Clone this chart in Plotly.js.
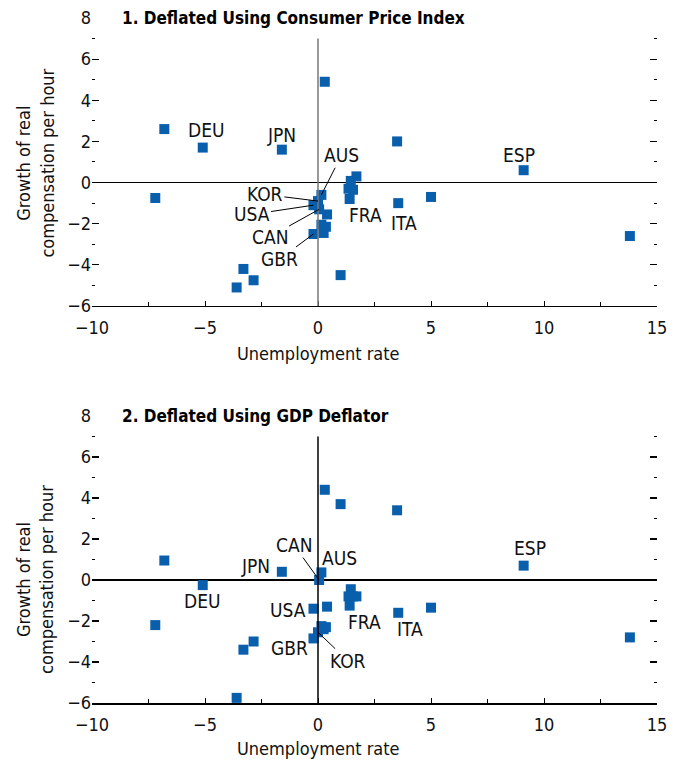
<!DOCTYPE html>
<html>
<head>
<meta charset="utf-8">
<script src="https://cdn.plot.ly/plotly-3.0.1.min.js"></script>
<style>html,body{margin:0;padding:0;background:#fff;}#chart{width:683px;height:760px;}</style>
</head>
<body>
<div id="chart"></div>
<script>
// Unemployment rate change (x) shared by both panels
const countries = ['', 'DEU', 'JPN', '', '', 'ESP', '', '', 'ITA', '', '', '', '', '',
                   'FRA', '', '', '', '', 'AUS', 'KOR', 'USA', 'CAN', '', '', '', '', 'GBR'];
const unemployment = [-6.8, -5.1, -1.6, 0.3, 3.5, 9.1, -7.2, 1.0, 3.55, 5.0, 13.8, -3.3, -2.85, -3.6,
                      1.7, 1.45, 1.35, 1.55, 1.4, 0.15, 0.0, -0.2, 0.05, 0.4, 0.15, 0.35, 0.25, -0.2];
// Panel 1: deflated using CPI
const wageCPI = [2.6, 1.7, 1.6, 4.9, 2.0, 0.6, -0.75, -4.5, -1.0, -0.7, -2.6, -4.2, -4.75, -5.1,
                 0.3, 0.08, -0.3, -0.35, -0.8, -0.6, -0.9, -1.1, -1.3, -1.55, -2.05, -2.15, -2.45, -2.5];
// Panel 2: deflated using GDP deflator
const wageGDP = [0.95, -0.25, 0.4, 4.4, 3.4, 0.7, -2.2, 3.7, -1.6, -1.35, -2.8, -3.4, -3.0, -5.75,
                 -0.8, -0.45, -0.8, -0.8, -1.25, 0.37, -2.55, -1.4, 0.0, -1.3, -2.25, -2.3, -2.4, -2.85];

const panelTitles = ['1. Deflated Using Consumer Price Index', '2. Deflated Using GDP Deflator'];
const yTitle = 'Growth of real<br>compensation per hour';
const xTitle = 'Unemployment rate';
const xRange = [-10, 15];
const yRange = [-6, 8];

// Label placements (text centre in data units) per panel; leader flag draws line to point
const labels1 = [
  {c: 'DEU', tx: -4.94, ty: 2.54},
  {c: 'JPN', tx: -1.6, ty: 2.33},
  {c: 'AUS', tx: 1.04, ty: 1.33, lead: true},
  {c: 'ESP', tx: 8.9, ty: 1.33},
  {c: 'KOR', tx: -2.35, ty: -0.58, lead: true},
  {c: 'USA', tx: -2.94, ty: -1.55, lead: true},
  {c: 'CAN', tx: -2.14, ty: -2.64, lead: true},
  {c: 'GBR', tx: -1.72, ty: -3.74, lead: true},
  {c: 'FRA', tx: 2.12, ty: -1.57},
  {c: 'ITA', tx: 3.79, ty: -1.98}
];
const labels2 = [
  {c: 'CAN', tx: -1.06, ty: 1.70, lead: true},
  {c: 'AUS', tx: 0.93, ty: 1.07},
  {c: 'JPN', tx: -2.76, ty: 0.69},
  {c: 'ESP', tx: 9.37, ty: 1.55},
  {c: 'DEU', tx: -5.12, ty: -1.03},
  {c: 'USA', tx: -1.33, ty: -1.45},
  {c: 'FRA', tx: 2.04, ty: -2.05},
  {c: 'ITA', tx: 4.07, ty: -2.37},
  {c: 'GBR', tx: -1.28, ty: -3.31},
  {c: 'KOR', tx: 1.34, ty: -3.96, lead: true}
];

const FONT = '"Liberation Sans Narrow", "DejaVu Sans Condensed", "Liberation Sans", sans-serif';
const BLUE = '#0A5FAD';

const traces = [
  {x: unemployment, y: wageCPI, xaxis: 'x', yaxis: 'y', type: 'scatter', mode: 'markers',
   marker: {symbol: 'square', size: 10, color: BLUE}, cliponaxis: false, hoverinfo: 'x+y'},
  {x: unemployment, y: wageGDP, xaxis: 'x2', yaxis: 'y2', type: 'scatter', mode: 'markers',
   marker: {symbol: 'square', size: 10, color: BLUE}, cliponaxis: false, hoverinfo: 'x+y'}
];

function xaxisDef(anchor) {
  return {
    range: xRange, anchor: anchor, dtick: 5, tick0: 0,
    ticks: 'inside', ticklen: 5, tickwidth: 1, tickcolor: '#000',
    minor: {dtick: 2.5, ticks: 'inside', ticklen: 4, tickwidth: 1, tickcolor: '#000'},
    showline: true, linecolor: '#000', linewidth: 1.5,
    showgrid: false, zeroline: false, ticklabelstandoff: 5,
    tickfont: {family: FONT, size: 18, color: '#111'},
    fixedrange: true
  };
}
function yaxisDef(anchor, domain) {
  return {
    range: yRange, anchor: anchor, domain: domain, dtick: 2, tick0: 0,
    ticks: 'inside', ticklen: 7, tickwidth: 1.2, tickcolor: '#000', mirror: 'ticks',
    minor: {dtick: 1, ticks: 'inside', ticklen: 3, tickwidth: 1, tickcolor: '#000'},
    showline: false, showgrid: false,
    zeroline: true, zerolinecolor: '#000', zerolinewidth: 1.2,
    tickfont: {family: FONT, size: 18, color: '#111'},
    fixedrange: true
  };
}

const annotations = [];
const shapes = [];
function addPanel(xa, ya, title, labels, vcolor, ytitleY, xtShift) {
  annotations.push({xref: xa, yref: ya, x: -8.75, y: 8, xanchor: 'left', yanchor: 'middle',
    text: '<b>' + title + '</b>', showarrow: false, font: {family: FONT, size: 17, color: '#000'}});
  annotations.push({xref: xa, yref: ya, x: 0, y: -6, xanchor: 'center', yanchor: 'top', yshift: xtShift,
    text: xTitle, showarrow: false, font: {family: FONT, size: 18, color: '#111'}});
  annotations.push({xref: 'paper', yref: ya, x: -0.101, y: ytitleY, xanchor: 'center', yanchor: 'middle',
    text: yTitle, textangle: -90, showarrow: false, font: {family: FONT, size: 18, color: '#111'}});
  shapes.push({type: 'line', xref: xa, yref: ya, x0: 0, x1: 0, y0: -6, y1: 7,
    line: {color: vcolor, width: 1.5}});
  labels.forEach(l => {
    const i = countries.indexOf(l.c);
    const px = unemployment[i];
    const py = (ya === 'y' ? wageCPI : wageGDP)[i];
    if (l.lead) {
      annotations.push({xref: xa, yref: ya, axref: xa, ayref: ya, x: px, y: py, ax: l.tx, ay: l.ty,
        text: l.c, showarrow: true, arrowhead: 0, arrowwidth: 1, arrowcolor: '#000', standoff: 0,
        font: {family: FONT, size: 19, color: '#111'}});
    } else {
      annotations.push({xref: xa, yref: ya, x: l.tx, y: l.ty, text: l.c, showarrow: false,
        font: {family: FONT, size: 19, color: '#111'}});
    }
  });
}
addPanel('x', 'y', panelTitles[0], labels1, '#777', 0.97, -35);
addPanel('x2', 'y2', panelTitles[1], labels2, '#000', 0.05, -33);

const layout = {
  width: 683, height: 760,
  margin: {l: 92, r: 26, t: 18, b: 57},
  paper_bgcolor: '#fff', plot_bgcolor: '#fff',
  showlegend: false,
  xaxis: xaxisDef('y'),
  yaxis: yaxisDef('x', [0.5796, 1]),
  xaxis2: xaxisDef('y2'),
  yaxis2: yaxisDef('x2', [0, 0.419]),
  annotations: annotations,
  shapes: shapes
};

Plotly.newPlot('chart', traces, layout, {displayModeBar: false, staticPlot: true});
</script>
</body>
</html>
